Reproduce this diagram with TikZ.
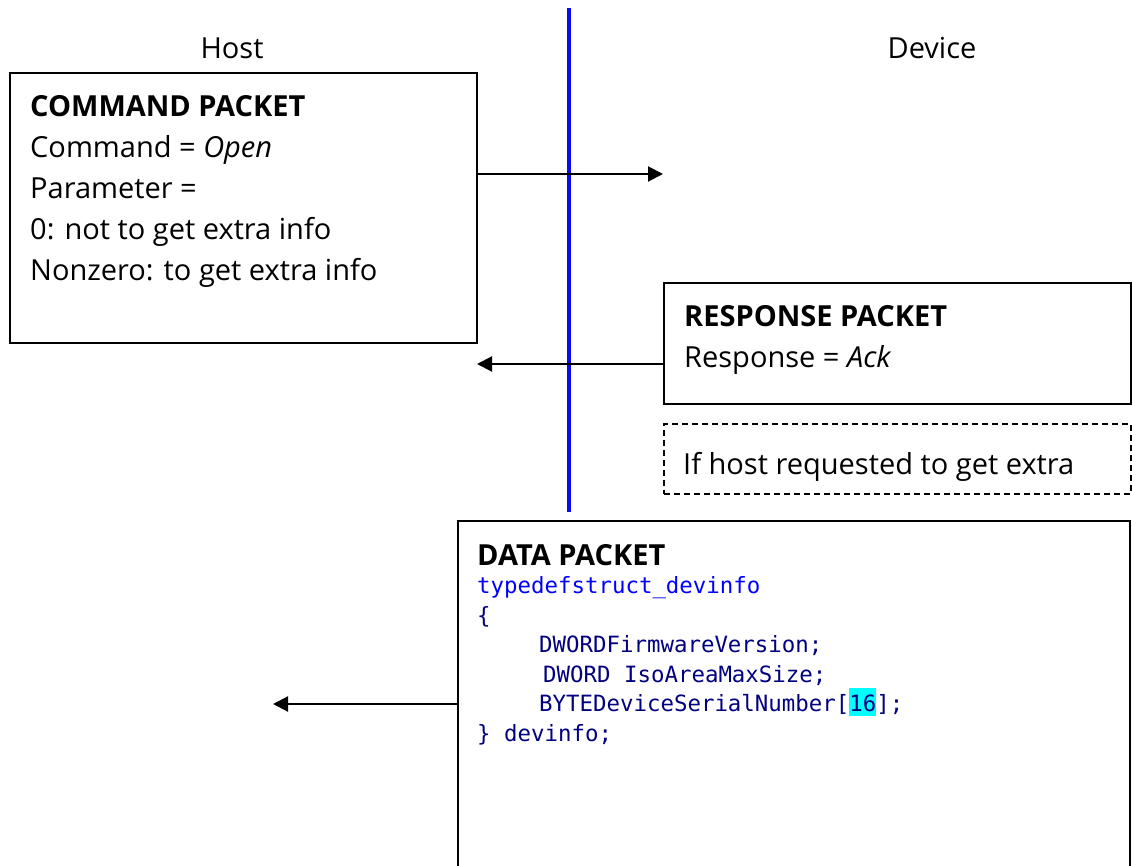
\documentclass[tikz,border=0pt]{standalone}
\usepackage{fontspec}
\setmainfont{Open Sans}
\setmonofont{DejaVu Sans Mono}
\usepackage{xcolor}
\usepackage{tikz}
\usetikzlibrary{arrows.meta,positioning}
\definecolor{codeblue}{RGB}{0,0,255}
\definecolor{codenavy}{RGB}{0,0,128}
\definecolor{hilite}{RGB}{0,255,255}
\definecolor{splitblue}{RGB}{10,10,240}
\newcommand{\hl}[1]{{\setlength{\fboxsep}{0pt}\colorbox{hilite}{\vrule height 24pt depth 4pt width 0pt #1}}}

\begin{document}
\begin{tikzpicture}[
    x=1pt, y=-1pt,
    pktbox/.style={draw=black, line width=2pt, fill=white, inner sep=0pt,
        anchor=north west, minimum width=467pt},
    optbox/.style={draw=black, line width=1.8pt, dash pattern=on 6pt off 4pt,
        inner sep=0pt, anchor=north west, minimum width=467pt},
    pkttext/.style={inner sep=0pt, anchor=base west, align=left,
        font=\fontsize{29}{41}\selectfont},
    codetext/.style={inner sep=0pt, anchor=base west, align=left,
        font=\ttfamily\fontsize{22.4}{29.5}\selectfont, text=codenavy},
    sidelabel/.style={inner sep=0pt, anchor=base, font=\fontsize{29}{41}\selectfont},
    pktarr/.style={-{Triangle[length=15pt,width=15pt]}, line width=2pt},
    splitline/.style={splitblue, line width=4pt},
]
\useasboundingbox (0,0) rectangle (1132,866);

% === Host / Device split ===
\coordinate (splittop) at (569,8);
\coordinate (splitbot) at (569,512);
\draw[splitline] (splittop) -- (splitbot);
\node[sidelabel] (host)   at (232,59) {Host};
\node[sidelabel] (device) at (932,59) {Device};

% === Command packet (placed by its last baseline) ===
\node[pktbox, minimum height=270pt] (cmd) at (9,72) {};
\node[pkttext] (cmdtxt) at (30,281) {\textbf{COMMAND PACKET}\\
    Command = \textit{Open}\\
    Parameter =\\
    0: not to get extra info\\
    Nonzero: to get extra info};

% === Response packet ===
\node[pktbox, minimum height=121pt] (resp) at (663,282) {};
\node[pkttext] (resptxt) at (684,367) {\textbf{RESPONSE PACKET}\\
    Response = \textit{Ack}};

% === Optional note ===
\node[optbox, minimum height=70pt] (extra) at (663,423) {};
\node[pkttext] (extratxt) at (683,474) {If host requested to get extra};

% === Data packet ===
\node[pktbox, minimum width=672pt, minimum height=400pt] (data) at (457,520) {};
\node[pkttext] (datatxt) at (477,565) {\textbf{DATA PACKET}};
\node[codetext] (code) at (477,741) {\textcolor{codeblue}{typedefstruct\_devinfo}\\
    \{\\
    \hspace*{62pt}DWORDFirmwareVersion;\\
    \hspace*{66pt}DWORD IsoAreaMaxSize;\\
    \hspace*{62pt}BYTEDeviceSerialNumber[\hl{16}];\\
    \} devinfo;};

% === Transfers ===
\coordinate (cmdhead)  at (663,174);
\coordinate (ackhead)  at (477,364);
\coordinate (datahead) at (273,704);
\draw[pktarr] (cmd.east |- cmdhead) -- (cmdhead);
\draw[pktarr] (resp.west |- ackhead) -- (ackhead);
\draw[pktarr] (data.west |- datahead) -- (datahead);

\end{tikzpicture}
\end{document}
